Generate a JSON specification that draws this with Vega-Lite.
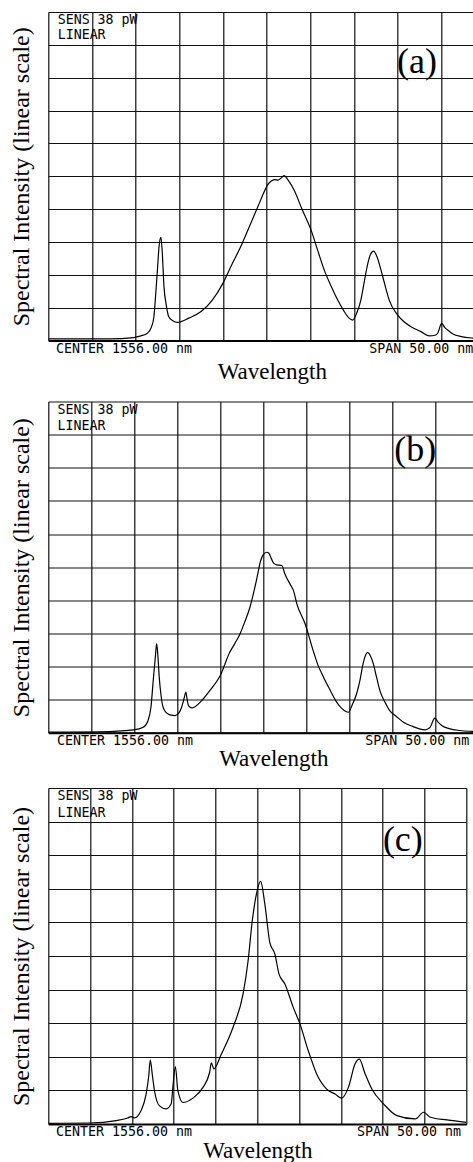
{
  "$schema": "https://vega.github.io/schema/vega-lite/v6.json",
  "padding": {"left": 9.3, "top": 12, "right": 0, "bottom": 0},
  "background": "white",
  "spacing": 17.5,
  "config": {
    "view": {"stroke": null},
    "axis": {"gridColor": "#111111", "gridWidth": 1.2, "gridOpacity": 1, "tickCount": 30, "titleFont": "Liberation Serif", "titleFontWeight": "normal", "titleColor": "black"},
    "axisLeft": {"titleFontSize": 24},
    "axisBottom": {"titleFontSize": 23}
  },
  "resolve": {"scale": {"x": "independent", "y": "independent"}},
  "datasets": {
    "a": [
      {"wl": 1531, "intensity": 0.05}, {"wl": 1535, "intensity": 0.05}, {"wl": 1538, "intensity": 0.05}, {"wl": 1540.8, "intensity": 0.09}, {"wl": 1541.6, "intensity": 0.14}, {"wl": 1542.35, "intensity": 0.22}, {"wl": 1542.8, "intensity": 0.4}, {"wl": 1543.1, "intensity": 0.73}, {"wl": 1543.3, "intensity": 1.4}, {"wl": 1543.5, "intensity": 2.15}, {"wl": 1543.7, "intensity": 2.9}, {"wl": 1543.9, "intensity": 3.14}, {"wl": 1544.05, "intensity": 2.7}, {"wl": 1544.25, "intensity": 1.64}, {"wl": 1544.5, "intensity": 1.1}, {"wl": 1544.8, "intensity": 0.72}, {"wl": 1545.25, "intensity": 0.6}, {"wl": 1545.8, "intensity": 0.55}, {"wl": 1547.1, "intensity": 0.68}, {"wl": 1548.5, "intensity": 0.88}, {"wl": 1549.7, "intensity": 1.2}, {"wl": 1551.0, "intensity": 1.74}, {"wl": 1552.0, "intensity": 2.3}, {"wl": 1553.05, "intensity": 2.86}, {"wl": 1554.0, "intensity": 3.45}, {"wl": 1555.0, "intensity": 4.07}, {"wl": 1555.6, "intensity": 4.45}, {"wl": 1556.1, "intensity": 4.73}, {"wl": 1556.5, "intensity": 4.85}, {"wl": 1556.9, "intensity": 4.9}, {"wl": 1557.3, "intensity": 4.88}, {"wl": 1557.65, "intensity": 4.94}, {"wl": 1558.0, "intensity": 5.02}, {"wl": 1558.55, "intensity": 4.85}, {"wl": 1559.15, "intensity": 4.58}, {"wl": 1560.1, "intensity": 3.97}, {"wl": 1561.1, "intensity": 3.36}, {"wl": 1561.85, "intensity": 2.75}, {"wl": 1562.6, "intensity": 2.15}, {"wl": 1563.4, "intensity": 1.65}, {"wl": 1564.15, "intensity": 1.23}, {"wl": 1564.85, "intensity": 0.9}, {"wl": 1565.45, "intensity": 0.68}, {"wl": 1565.85, "intensity": 0.62}, {"wl": 1566.35, "intensity": 0.85}, {"wl": 1566.8, "intensity": 1.23}, {"wl": 1567.2, "intensity": 1.8}, {"wl": 1567.6, "intensity": 2.35}, {"wl": 1567.9, "intensity": 2.62}, {"wl": 1568.25, "intensity": 2.72}, {"wl": 1568.65, "intensity": 2.55}, {"wl": 1569.1, "intensity": 2.15}, {"wl": 1569.6, "intensity": 1.65}, {"wl": 1570.05, "intensity": 1.23}, {"wl": 1571.0, "intensity": 0.78}, {"wl": 1571.75, "intensity": 0.57}, {"wl": 1572.55, "intensity": 0.42}, {"wl": 1573.7, "intensity": 0.27}, {"wl": 1574.65, "intensity": 0.14}, {"wl": 1575.3, "intensity": 0.16}, {"wl": 1575.6, "intensity": 0.22}, {"wl": 1576.05, "intensity": 0.52}, {"wl": 1576.4, "intensity": 0.4}, {"wl": 1576.75, "intensity": 0.32}, {"wl": 1577.35, "intensity": 0.2}, {"wl": 1578.3, "intensity": 0.12}, {"wl": 1579.8, "intensity": 0.07}, {"wl": 1581, "intensity": 0.05}
    ],
    "b": [
      {"wl": 1531, "intensity": 0.02}, {"wl": 1537, "intensity": 0.03}, {"wl": 1540.9, "intensity": 0.09}, {"wl": 1542.05, "intensity": 0.17}, {"wl": 1542.6, "intensity": 0.37}, {"wl": 1542.95, "intensity": 0.8}, {"wl": 1543.2, "intensity": 1.58}, {"wl": 1543.45, "intensity": 2.3}, {"wl": 1543.6, "intensity": 2.69}, {"wl": 1543.75, "intensity": 2.3}, {"wl": 1543.9, "intensity": 1.68}, {"wl": 1544.1, "intensity": 1.15}, {"wl": 1544.35, "intensity": 0.77}, {"wl": 1544.75, "intensity": 0.6}, {"wl": 1545.15, "intensity": 0.54}, {"wl": 1545.75, "intensity": 0.52}, {"wl": 1546.2, "intensity": 0.6}, {"wl": 1546.5, "intensity": 0.77}, {"wl": 1546.8, "intensity": 1.05}, {"wl": 1547.0, "intensity": 1.23}, {"wl": 1547.15, "intensity": 1.0}, {"wl": 1547.3, "intensity": 0.82}, {"wl": 1547.7, "intensity": 0.75}, {"wl": 1548.65, "intensity": 0.92}, {"wl": 1549.8, "intensity": 1.28}, {"wl": 1551.0, "intensity": 1.73}, {"wl": 1552.1, "intensity": 2.43}, {"wl": 1552.7, "intensity": 2.7}, {"wl": 1553.3, "intensity": 2.99}, {"wl": 1553.85, "intensity": 3.35}, {"wl": 1554.45, "intensity": 3.79}, {"wl": 1554.85, "intensity": 4.2}, {"wl": 1555.2, "intensity": 4.6}, {"wl": 1555.7, "intensity": 5.2}, {"wl": 1556.0, "intensity": 5.38}, {"wl": 1556.4, "intensity": 5.45}, {"wl": 1556.65, "intensity": 5.42}, {"wl": 1556.95, "intensity": 5.25}, {"wl": 1557.2, "intensity": 5.12}, {"wl": 1557.55, "intensity": 5.07}, {"wl": 1558.15, "intensity": 5.05}, {"wl": 1558.5, "intensity": 4.8}, {"wl": 1559.3, "intensity": 4.4}, {"wl": 1559.5, "intensity": 4.3}, {"wl": 1559.9, "intensity": 3.89}, {"wl": 1560.85, "intensity": 3.3}, {"wl": 1561.8, "intensity": 2.48}, {"wl": 1562.35, "intensity": 2.05}, {"wl": 1563.0, "intensity": 1.68}, {"wl": 1563.75, "intensity": 1.3}, {"wl": 1564.55, "intensity": 0.92}, {"wl": 1565.15, "intensity": 0.73}, {"wl": 1565.9, "intensity": 0.62}, {"wl": 1566.35, "intensity": 0.85}, {"wl": 1566.85, "intensity": 1.18}, {"wl": 1567.25, "intensity": 1.6}, {"wl": 1567.6, "intensity": 2.08}, {"wl": 1567.9, "intensity": 2.35}, {"wl": 1568.15, "intensity": 2.43}, {"wl": 1568.4, "intensity": 2.35}, {"wl": 1568.8, "intensity": 2.08}, {"wl": 1569.15, "intensity": 1.7}, {"wl": 1569.55, "intensity": 1.28}, {"wl": 1570.15, "intensity": 0.92}, {"wl": 1570.7, "intensity": 0.67}, {"wl": 1571.45, "intensity": 0.5}, {"wl": 1572.3, "intensity": 0.32}, {"wl": 1573.3, "intensity": 0.2}, {"wl": 1574.8, "intensity": 0.09}, {"wl": 1575.35, "intensity": 0.15}, {"wl": 1575.95, "intensity": 0.44}, {"wl": 1576.3, "intensity": 0.33}, {"wl": 1576.75, "intensity": 0.22}, {"wl": 1577.7, "intensity": 0.12}, {"wl": 1578.85, "intensity": 0.07}, {"wl": 1580.4, "intensity": 0.04}, {"wl": 1581, "intensity": 0.03}
    ],
    "c": [
      {"wl": 1531, "intensity": 0.02}, {"wl": 1535.9, "intensity": 0.03}, {"wl": 1539.1, "intensity": 0.1}, {"wl": 1540.5, "intensity": 0.18}, {"wl": 1540.9, "intensity": 0.22}, {"wl": 1541.3, "intensity": 0.18}, {"wl": 1542.1, "intensity": 0.4}, {"wl": 1542.7, "intensity": 0.89}, {"wl": 1543.0, "intensity": 1.4}, {"wl": 1543.2, "intensity": 1.9}, {"wl": 1543.45, "intensity": 1.45}, {"wl": 1543.7, "intensity": 0.99}, {"wl": 1544.3, "intensity": 0.54}, {"wl": 1545.1, "intensity": 0.45}, {"wl": 1545.7, "intensity": 0.6}, {"wl": 1545.9, "intensity": 1.09}, {"wl": 1546.2, "intensity": 1.71}, {"wl": 1546.5, "intensity": 0.99}, {"wl": 1547.1, "intensity": 0.64}, {"wl": 1548.3, "intensity": 0.77}, {"wl": 1549.5, "intensity": 1.09}, {"wl": 1550.3, "intensity": 1.54}, {"wl": 1550.5, "intensity": 1.82}, {"wl": 1550.8, "intensity": 1.64}, {"wl": 1551.7, "intensity": 2.08}, {"wl": 1553.1, "intensity": 2.88}, {"wl": 1554.3, "intensity": 3.87}, {"wl": 1554.9, "intensity": 4.86}, {"wl": 1555.4, "intensity": 6.05}, {"wl": 1555.9, "intensity": 6.85}, {"wl": 1556.4, "intensity": 7.22}, {"wl": 1556.9, "intensity": 6.55}, {"wl": 1557.5, "intensity": 5.4}, {"wl": 1558.1, "intensity": 5.06}, {"wl": 1558.6, "intensity": 4.46}, {"wl": 1559.3, "intensity": 4.17}, {"wl": 1560.3, "intensity": 3.47}, {"wl": 1561.1, "intensity": 2.98}, {"wl": 1562.1, "intensity": 2.18}, {"wl": 1563.1, "intensity": 1.49}, {"wl": 1564.3, "intensity": 1.04}, {"wl": 1565.3, "intensity": 0.89}, {"wl": 1566.1, "intensity": 0.77}, {"wl": 1566.9, "intensity": 1.09}, {"wl": 1567.7, "intensity": 1.79}, {"wl": 1568.2, "intensity": 1.93}, {"wl": 1568.9, "intensity": 1.49}, {"wl": 1569.7, "intensity": 1.04}, {"wl": 1571.1, "intensity": 0.6}, {"wl": 1572.7, "intensity": 0.25}, {"wl": 1574.9, "intensity": 0.15}, {"wl": 1575.9, "intensity": 0.35}, {"wl": 1576.7, "intensity": 0.2}, {"wl": 1578.7, "intensity": 0.12}, {"wl": 1581.0, "intensity": 0.05}
    ]
  },
  "vconcat": [
    {
      "width": 425, "height": 328.5,
      "layer": [
        {
          "data": {"name": "a"},
          "mark": {"type": "line", "color": "black", "strokeWidth": 1.2, "clip": true, "interpolate": "monotone"},
          "encoding": {
            "x": {"field": "wl", "type": "quantitative", "scale": {"domain": [1531, 1579.68], "nice": false, "zero": false},
                  "axis": {"values": [1531, 1536, 1541, 1546, 1551, 1556, 1561, 1566, 1571, 1576], "tickCount": 30, "grid": true, "ticks": false, "labels": false, "domain": true, "domainColor": "black", "domainWidth": 2, "title": "Wavelength", "titlePadding": 20, "titleX": 223.5}},
            "y": {"field": "intensity", "type": "quantitative", "scale": {"domain": [0, 10], "nice": false, "zero": false},
                  "axis": {"values": [0, 1, 2, 3, 4, 5, 6, 7, 8, 9, 10], "tickCount": 30, "grid": true, "ticks": false, "labels": false, "domain": false, "title": "Spectral Intensity (linear scale)", "titlePadding": 14.7}}
          }
        },
        {"data": {"values": [{}]}, "mark": {"type": "text", "font": "DejaVu Sans Mono", "fontSize": 13.3, "align": "left", "baseline": "middle", "color": "black"},
         "encoding": {"x": {"datum": 1532.07}, "y": {"datum": 9.756}, "text": {"value": "SENS  38 pW"}}},
        {"data": {"values": [{}]}, "mark": {"type": "text", "font": "DejaVu Sans Mono", "fontSize": 13.3, "align": "left", "baseline": "middle", "color": "black"},
         "encoding": {"x": {"datum": 1532.07}, "y": {"datum": 9.30}, "text": {"value": "LINEAR"}}},
        {"data": {"values": [{}]}, "mark": {"type": "text", "font": "DejaVu Sans Mono", "fontSize": 13.3, "align": "left", "baseline": "middle", "color": "black"},
         "encoding": {"x": {"datum": 1531.88}, "y": {"datum": -0.259}, "text": {"value": "CENTER 1556.00 nm"}}},
        {"data": {"values": [{}]}, "mark": {"type": "text", "font": "DejaVu Sans Mono", "fontSize": 13.3, "align": "left", "baseline": "middle", "color": "black"},
         "encoding": {"x": {"datum": 1567.77}, "y": {"datum": -0.259}, "text": {"value": "SPAN 50.00 nm"}}},
        {"data": {"values": [{}]}, "mark": {"type": "text", "font": "Liberation Serif", "fontSize": 36, "align": "center", "baseline": "middle", "color": "black"},
         "encoding": {"x": {"datum": 1573.23}, "y": {"datum": 8.478}, "text": {"value": "(a)"}}}
      ]
    },
    {
      "width": 425, "height": 331.3,
      "layer": [
        {
          "data": {"name": "b"},
          "mark": {"type": "line", "color": "black", "strokeWidth": 1.2, "clip": true, "interpolate": "monotone"},
          "encoding": {
            "x": {"field": "wl", "type": "quantitative", "scale": {"domain": [1531, 1580.42], "nice": false, "zero": false},
                  "axis": {"values": [1531, 1536, 1541, 1546, 1551, 1556, 1561, 1566, 1571, 1576], "tickCount": 30, "grid": true, "ticks": false, "labels": false, "domain": true, "domainColor": "black", "domainWidth": 2, "title": "Wavelength", "titlePadding": 14.5, "titleX": 225}},
            "y": {"field": "intensity", "type": "quantitative", "scale": {"domain": [0, 10], "nice": false, "zero": false},
                  "axis": {"values": [0, 1, 2, 3, 4, 5, 6, 7, 8, 9, 10], "tickCount": 30, "grid": true, "ticks": false, "labels": false, "domain": false, "title": "Spectral Intensity (linear scale)", "titlePadding": 14.7}}
          }
        },
        {"data": {"values": [{}]}, "mark": {"type": "text", "font": "DejaVu Sans Mono", "fontSize": 13.3, "align": "left", "baseline": "middle", "color": "black"},
         "encoding": {"x": {"datum": 1532.08}, "y": {"datum": 9.75}, "text": {"value": "SENS  38 pW"}}},
        {"data": {"values": [{}]}, "mark": {"type": "text", "font": "DejaVu Sans Mono", "fontSize": 13.3, "align": "left", "baseline": "middle", "color": "black"},
         "encoding": {"x": {"datum": 1532.08}, "y": {"datum": 9.275}, "text": {"value": "LINEAR"}}},
        {"data": {"values": [{}]}, "mark": {"type": "text", "font": "DejaVu Sans Mono", "fontSize": 13.3, "align": "left", "baseline": "middle", "color": "black"},
         "encoding": {"x": {"datum": 1532.01}, "y": {"datum": -0.254}, "text": {"value": "CENTER 1556.00 nm"}}},
        {"data": {"values": [{}]}, "mark": {"type": "text", "font": "DejaVu Sans Mono", "fontSize": 13.3, "align": "left", "baseline": "middle", "color": "black"},
         "encoding": {"x": {"datum": 1567.86}, "y": {"datum": -0.254}, "text": {"value": "SPAN 50.00 nm"}}},
        {"data": {"values": [{}]}, "mark": {"type": "text", "font": "Liberation Serif", "fontSize": 36, "align": "center", "baseline": "middle", "color": "black"},
         "encoding": {"x": {"datum": 1573.67}, "y": {"datum": 8.53}, "text": {"value": "(b)"}}}
      ]
    },
    {
      "width": 418, "height": 336,
      "layer": [
        {
          "data": {"name": "c"},
          "mark": {"type": "line", "color": "black", "strokeWidth": 1.2, "clip": true, "interpolate": "monotone"},
          "encoding": {
            "x": {"field": "wl", "type": "quantitative", "scale": {"domain": [1531, 1581], "nice": false, "zero": false},
                  "axis": {"values": [1531, 1536, 1541, 1546, 1551, 1556, 1561, 1566, 1571, 1576, 1581], "tickCount": 30, "grid": true, "ticks": false, "labels": false, "domain": true, "domainColor": "black", "domainWidth": 2, "title": "Wavelength", "titlePadding": 16}},
            "y": {"field": "intensity", "type": "quantitative", "scale": {"domain": [0, 10], "nice": false, "zero": false},
                  "axis": {"values": [0, 1, 2, 3, 4, 5, 6, 7, 8, 9, 10], "tickCount": 30, "grid": true, "ticks": false, "labels": false, "domain": false, "title": "Spectral Intensity (linear scale)", "titlePadding": 14.7}}
          }
        },
        {"data": {"values": [{}]}, "mark": {"type": "text", "font": "DejaVu Sans Mono", "fontSize": 13.3, "align": "left", "baseline": "middle", "color": "black"},
         "encoding": {"x": {"datum": 1532.1}, "y": {"datum": 9.77}, "text": {"value": "SENS  38 pW"}}},
        {"data": {"values": [{}]}, "mark": {"type": "text", "font": "DejaVu Sans Mono", "fontSize": 13.3, "align": "left", "baseline": "middle", "color": "black"},
         "encoding": {"x": {"datum": 1532.1}, "y": {"datum": 9.27}, "text": {"value": "LINEAR"}}},
        {"data": {"values": [{}]}, "mark": {"type": "text", "font": "DejaVu Sans Mono", "fontSize": 13.3, "align": "left", "baseline": "middle", "color": "black"},
         "encoding": {"x": {"datum": 1531.92}, "y": {"datum": -0.25}, "text": {"value": "CENTER 1556.00 nm"}}},
        {"data": {"values": [{}]}, "mark": {"type": "text", "font": "DejaVu Sans Mono", "fontSize": 13.3, "align": "left", "baseline": "middle", "color": "black"},
         "encoding": {"x": {"datum": 1567.93}, "y": {"datum": -0.25}, "text": {"value": "SPAN 50.00 nm"}}},
        {"data": {"values": [{}]}, "mark": {"type": "text", "font": "Liberation Serif", "fontSize": 36, "align": "center", "baseline": "middle", "color": "black"},
         "encoding": {"x": {"datum": 1573.41}, "y": {"datum": 8.44}, "text": {"value": "(c)"}}}
      ]
    }
  ]
}
